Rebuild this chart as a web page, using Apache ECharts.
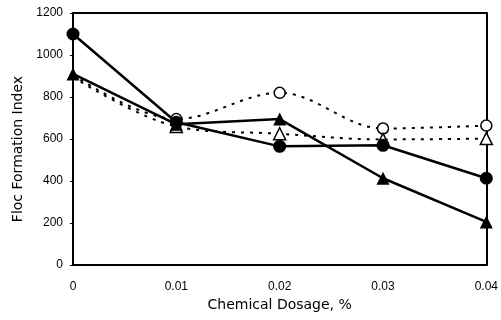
<!DOCTYPE html>
<html>
	<head>
		<meta charset="UTF-8">
		<title>Floc Formation Index</title>
		<script src="https://cdn.jsdelivr.net/npm/echarts@6/dist/echarts.min.js"></script>
	</head>
	<body style="margin:0; background:#fff;">
		<div id="chart" style="width:501px; height:320px;"></div>
		<script>
			// dosage (%) on the x axis
			var dosage = [0, 0.01, 0.02, 0.03, 0.04];
			// four runs
			var filledCircle = [1100, 680, 565, 570, 413];
			var filledTriangle = [910, 670, 695, 413, 205];
			var openCircle = [905, 695, 820, 650, 664];
			var openTriangle = [895, 660, 625, 598, 602];
			var yTicks = [0, 200, 400, 600, 800, 1000, 1200];

			// hideFirst: the open markers at zero sit under the filled triangle
			function pairs(vals, hideFirst) {
				return dosage.map(function(d, i) {
					if (hideFirst && i === 0) return { value: [d, vals[i]], symbolSize: 0 };
					return [d, vals[i]];
				});
			}

			var labelFont = { color: '#000', fontFamily: 'Liberation Sans', fontSize: 12 };
			var nameFont = { color: '#000', fontFamily: 'DejaVu Sans', fontSize: 14 };
			var frame = { show: true, onZero: false, lineStyle: { color: '#000', width: 2 } };

			var chart = echarts.init(document.getElementById('chart'), null, { renderer: 'canvas' });
			chart.setOption({
				animation: false,
				backgroundColor: '#fff',
				grid: { left: 73, right: 12, top: 13, bottom: 55 },
				xAxis: [{
					type: 'value', min: 0, max: 0.04, interval: 0.01,
					name: 'Chemical Dosage, %', nameLocation: 'middle', nameGap: 31,
					nameTextStyle: nameFont,
					axisLine: frame,
					axisTick: { show: false },
					splitLine: { show: false },
					axisLabel: Object.assign({ margin: 16, formatter: function(v) { return v === 0 ? '0' : v.toFixed(2); } }, labelFont)
				}, {
					type: 'value', position: 'top', min: 0, max: 0.04, interval: 0.01,
					axisLine: frame, axisTick: { show: false }, axisLabel: { show: false }, splitLine: { show: false }
				}],
				yAxis: [{
					type: 'value', min: yTicks[0], max: yTicks[yTicks.length - 1], interval: 200,
					name: 'Floc Formation Index', nameLocation: 'middle', nameGap: 45,
					nameTextStyle: Object.assign({ padding: [0, 20, 0, 0] }, nameFont),
					axisLine: frame,
					axisTick: { show: true, length: 3, lineStyle: { color: '#000' } },
					splitLine: { show: false },
					axisLabel: Object.assign({ margin: 10, formatter: function(v) { return String(v); } }, labelFont)
				}, {
					type: 'value', position: 'right', min: yTicks[0], max: yTicks[yTicks.length - 1], interval: 200,
					axisLine: frame, axisTick: { show: false }, axisLabel: { show: false }, splitLine: { show: false }
				}],
				series: [
					{
						type: 'line', data: pairs(openCircle, true), smooth: 0.35,
						symbol: 'circle', symbolSize: 11, showAllSymbol: true,
						lineStyle: { color: '#000', width: 2, type: [3, 6] },
						itemStyle: { color: '#fff', borderColor: '#000', borderWidth: 1.5 }
					},
					{
						type: 'line', data: pairs(openTriangle, true), smooth: 0.35,
						symbol: 'triangle', symbolSize: 12, showAllSymbol: true,
						lineStyle: { color: '#000', width: 2, type: [3, 6] },
						itemStyle: { color: '#fff', borderColor: '#000', borderWidth: 1.5 }
					},
					{
						type: 'line', data: pairs(filledCircle),
						symbol: 'circle', symbolSize: 13,
						lineStyle: { color: '#000', width: 2.5 },
						itemStyle: { color: '#000' }
					},
					{
						type: 'line', data: pairs(filledTriangle),
						symbol: 'triangle', symbolSize: 13,
						lineStyle: { color: '#000', width: 2.5 },
						itemStyle: { color: '#000' }
					}
				]
			});
		</script>
	</body>
</html>
